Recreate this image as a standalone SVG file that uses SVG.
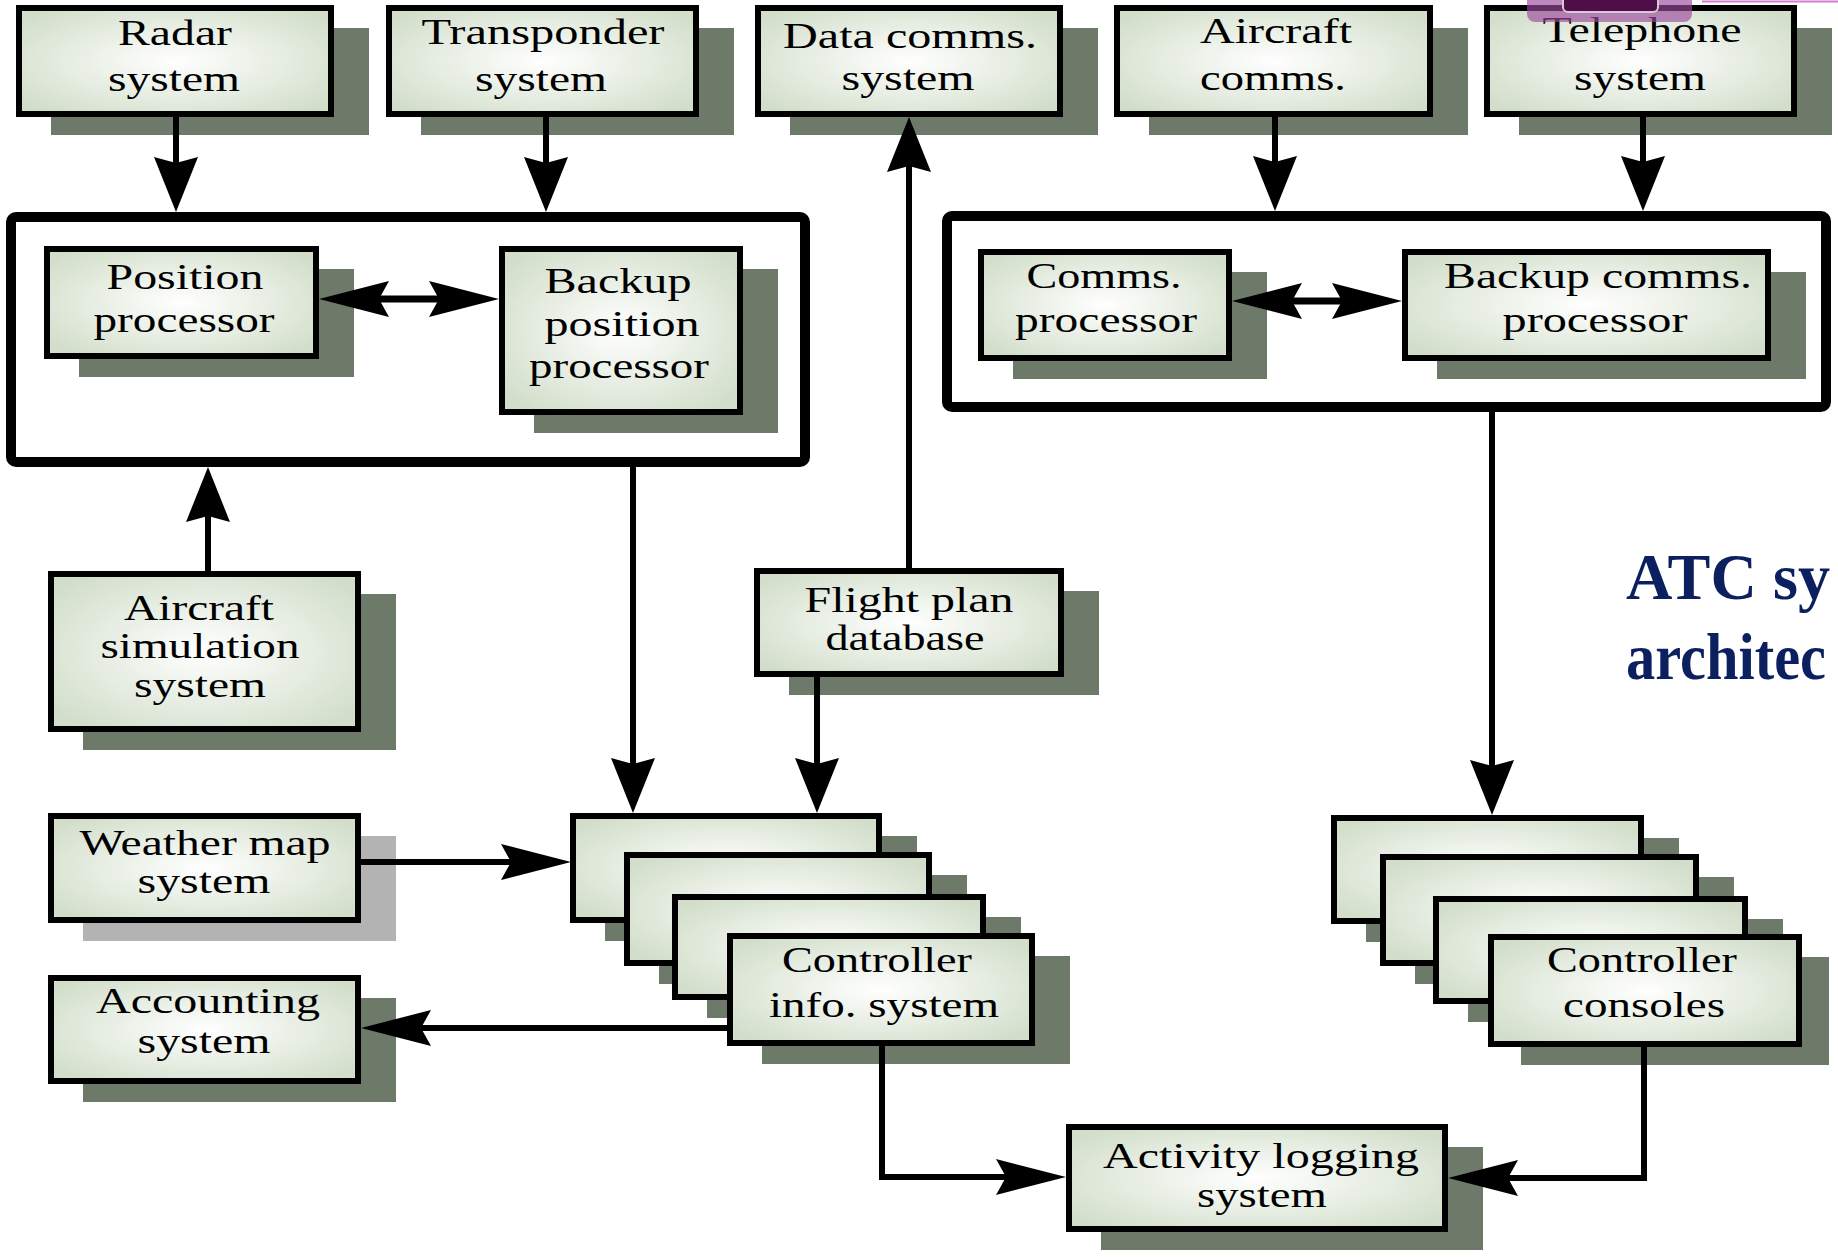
<svg xmlns="http://www.w3.org/2000/svg" width="1838" height="1257" viewBox="0 0 1838 1257">
<defs>
<radialGradient id="g" cx="0.5" cy="0.5" r="0.62">
<stop offset="0" stop-color="#ffffff"/>
<stop offset="1" stop-color="#d2deca"/>
</radialGradient>
<marker id="av" markerUnits="userSpaceOnUse" orient="auto-start-reverse" overflow="visible" markerWidth="1" markerHeight="1" refX="0" refY="0">
<path d="M49,0 L-6,-22 L0,0 L-6,22 Z" fill="#000"/>
</marker>
<marker id="ah" markerUnits="userSpaceOnUse" orient="auto-start-reverse" overflow="visible" markerWidth="1" markerHeight="1" refX="0" refY="0">
<path d="M60,0 L-10,-18 L0,0 L-10,18 Z" fill="#000"/>
</marker>
<style>
.sh{fill:#6e7a69}
.shg{fill:#b3b3b3}
.bx{fill:url(#g);stroke:#000;stroke-width:6}
.ct{fill:#fff;stroke:#000;stroke-width:10}
.t{font-family:"Liberation Serif","Times New Roman",serif;font-size:35px;text-anchor:middle;fill:#000}
.ttl{font-family:"Liberation Serif","Times New Roman",serif;font-size:65px;font-weight:bold;fill:#0c1f5e}
.c{fill:none;stroke:#000;stroke-width:6}
.cv{marker-end:url(#av)}
.ch{marker-end:url(#ah)}
.cd{marker-start:url(#ah);marker-end:url(#ah);stroke-width:7}
</style>
</defs>
<rect width="1838" height="1257" fill="#fff"/>

<g id="radar">
<rect class="sh" x="51" y="28" width="318" height="107"/>
<rect class="bx" x="19" y="8" width="312" height="106"/>
<text class="t" x="175" y="45" textLength="114" lengthAdjust="spacingAndGlyphs">Radar</text>
<text class="t" x="174" y="91" textLength="132" lengthAdjust="spacingAndGlyphs">system</text>
</g>
<g id="transponder">
<rect class="sh" x="421" y="28" width="313" height="107"/>
<rect class="bx" x="389" y="8" width="307" height="106"/>
<text class="t" x="543" y="44" textLength="243" lengthAdjust="spacingAndGlyphs">Transponder</text>
<text class="t" x="541" y="91" textLength="132" lengthAdjust="spacingAndGlyphs">system</text>
</g>
<g id="datacomms">
<rect class="sh" x="790" y="28" width="308" height="107"/>
<rect class="bx" x="758" y="8" width="302" height="106"/>
<text class="t" x="910" y="48" textLength="254" lengthAdjust="spacingAndGlyphs">Data comms.</text>
<text class="t" x="908" y="90" textLength="133" lengthAdjust="spacingAndGlyphs">system</text>
</g>
<g id="aircraftcomms">
<rect class="sh" x="1149" y="28" width="319" height="107"/>
<rect class="bx" x="1117" y="8" width="313" height="106"/>
<text class="t" x="1276" y="43" textLength="152" lengthAdjust="spacingAndGlyphs">Aircraft</text>
<text class="t" x="1273" y="90" textLength="146" lengthAdjust="spacingAndGlyphs">comms.</text>
</g>
<g id="telephone">
<rect class="sh" x="1519" y="28" width="313" height="107"/>
<rect class="bx" x="1487" y="8" width="307" height="106"/>
<text class="t" x="1642" y="42" textLength="199" lengthAdjust="spacingAndGlyphs">Telephone</text>
<text class="t" x="1640" y="90" textLength="132" lengthAdjust="spacingAndGlyphs">system</text>
</g>

<g id="position-container">
<rect class="ct" x="11" y="217" width="794" height="245" rx="5"/>
</g>
<g id="comms-container">
<rect class="ct" x="947" y="216" width="879" height="191" rx="5"/>
</g>

<g id="position-processor">
<rect class="sh" x="79" y="269" width="275" height="108"/>
<rect class="bx" x="47" y="249" width="269" height="107"/>
<text class="t" x="185" y="289" textLength="157" lengthAdjust="spacingAndGlyphs">Position</text>
<text class="t" x="184" y="332" textLength="181" lengthAdjust="spacingAndGlyphs">processor</text>
</g>
<g id="backup-position-processor">
<rect class="sh" x="534" y="269" width="244" height="164"/>
<rect class="bx" x="502" y="249" width="238" height="163"/>
<text class="t" x="618" y="293" textLength="147" lengthAdjust="spacingAndGlyphs">Backup</text>
<text class="t" x="622" y="336" textLength="155" lengthAdjust="spacingAndGlyphs">position</text>
<text class="t" x="619" y="378" textLength="180" lengthAdjust="spacingAndGlyphs">processor</text>
</g>
<g id="comms-processor">
<rect class="sh" x="1013" y="272" width="254" height="107"/>
<rect class="bx" x="981" y="252" width="248" height="106"/>
<text class="t" x="1104" y="288" textLength="155" lengthAdjust="spacingAndGlyphs">Comms.</text>
<text class="t" x="1106" y="332" textLength="182" lengthAdjust="spacingAndGlyphs">processor</text>
</g>
<g id="backup-comms-processor">
<rect class="sh" x="1437" y="272" width="369" height="107"/>
<rect class="bx" x="1405" y="252" width="363" height="106"/>
<text class="t" x="1598" y="288" textLength="308" lengthAdjust="spacingAndGlyphs">Backup comms.</text>
<text class="t" x="1595" y="332" textLength="185" lengthAdjust="spacingAndGlyphs">processor</text>
</g>

<g id="aircraft-simulation">
<rect class="sh" x="83" y="594" width="313" height="156"/>
<rect class="bx" x="51" y="574" width="307" height="155"/>
<text class="t" x="199" y="620" textLength="150" lengthAdjust="spacingAndGlyphs">Aircraft</text>
<text class="t" x="200" y="658" textLength="199" lengthAdjust="spacingAndGlyphs">simulation</text>
<text class="t" x="200" y="697" textLength="132" lengthAdjust="spacingAndGlyphs">system</text>
</g>
<g id="flight-plan">
<rect class="sh" x="789" y="591" width="310" height="104"/>
<rect class="bx" x="757" y="571" width="304" height="103"/>
<text class="t" x="909" y="612" textLength="209" lengthAdjust="spacingAndGlyphs">Flight plan</text>
<text class="t" x="905" y="650" textLength="159" lengthAdjust="spacingAndGlyphs">database</text>
</g>
<g id="weather-map">
<rect class="shg" x="83" y="836" width="313" height="105"/>
<rect class="bx" x="51" y="816" width="307" height="104"/>
<text class="t" x="205" y="855" textLength="251" lengthAdjust="spacingAndGlyphs">Weather map</text>
<text class="t" x="204" y="893" textLength="133" lengthAdjust="spacingAndGlyphs">system</text>
</g>
<g id="accounting">
<rect class="sh" x="83" y="998" width="313" height="104"/>
<rect class="bx" x="51" y="978" width="307" height="103"/>
<text class="t" x="208" y="1013" textLength="224" lengthAdjust="spacingAndGlyphs">Accounting</text>
<text class="t" x="204" y="1053" textLength="133" lengthAdjust="spacingAndGlyphs">system</text>
</g>

<g id="controller-info-system">
<rect class="sh" x="605" y="836" width="312" height="105"/>
<rect class="bx" x="573" y="816" width="306" height="104"/>
<rect class="sh" x="659" y="875" width="308" height="109"/>
<rect class="bx" x="627" y="855" width="302" height="108"/>
<rect class="sh" x="707" y="917" width="314" height="101"/>
<rect class="bx" x="675" y="897" width="308" height="100"/>
<rect class="sh" x="762" y="956" width="308" height="108"/>
<rect class="bx" x="730" y="936" width="302" height="107"/>
<text class="t" x="877" y="972" textLength="190" lengthAdjust="spacingAndGlyphs">Controller</text>
<text class="t" x="884" y="1017" textLength="230" lengthAdjust="spacingAndGlyphs">info. system</text>
</g>
<g id="controller-consoles">
<rect class="sh" x="1366" y="838" width="313" height="104"/>
<rect class="bx" x="1334" y="818" width="307" height="103"/>
<rect class="sh" x="1415" y="877" width="319" height="107"/>
<rect class="bx" x="1383" y="857" width="313" height="106"/>
<rect class="sh" x="1468" y="919" width="315" height="103"/>
<rect class="bx" x="1436" y="899" width="309" height="102"/>
<rect class="sh" x="1521" y="957" width="308" height="108"/>
<rect class="bx" x="1491" y="937" width="308" height="107"/>
<text class="t" x="1642" y="972" textLength="190" lengthAdjust="spacingAndGlyphs">Controller</text>
<text class="t" x="1644" y="1017" textLength="162" lengthAdjust="spacingAndGlyphs">consoles</text>
</g>
<g id="activity-logging">
<rect class="sh" x="1101" y="1147" width="382" height="103"/>
<rect class="bx" x="1069" y="1127" width="376" height="102"/>
<text class="t" x="1261" y="1168" textLength="316" lengthAdjust="spacingAndGlyphs">Activity logging</text>
<text class="t" x="1262" y="1207" textLength="130" lengthAdjust="spacingAndGlyphs">system</text>
</g>

<g id="connectors">
<path class="c cv" d="M176,117 V163"/>
<path class="c cv" d="M546,117 V163"/>
<path class="c cv" d="M1275,117 V162"/>
<path class="c cv" d="M1643,117 V162"/>
<path class="c cd" d="M379,299 H439"/>
<path class="c cd" d="M1292,301 H1342"/>
<path class="c cv" d="M208,571 V516"/>
<path class="c cv" d="M909,568 V166"/>
<path class="c cv" d="M633,467 V764"/>
<path class="c cv" d="M817,677 V764"/>
<path class="c ch" d="M361,862 H511"/>
<path class="c ch" d="M727,1028 H421"/>
<path class="c cv" d="M1492,412 V766"/>
<path class="c ch" d="M882,1046 V1177 H1006"/>
<path class="c ch" d="M1644,1047 V1178 H1508"/>
</g>

<g id="title">
<text class="ttl" x="1626" y="599" textLength="204" lengthAdjust="spacingAndGlyphs">ATC sy</text>
<text class="ttl" x="1626" y="679" textLength="200" lengthAdjust="spacingAndGlyphs">architec</text>
</g>

<g id="watermark">
<rect x="1527" y="-12" width="165" height="34" rx="8" fill="#9b4a9b" fill-opacity="0.65"/>
<rect x="1563" y="-10" width="95" height="22" rx="5" fill="#4e0f48" stroke="#d8c8d8" stroke-width="2"/>
<line x1="1702" y1="1.5" x2="1838" y2="1.5" stroke="#d77ccd" stroke-width="2"/>
</g>
</svg>
